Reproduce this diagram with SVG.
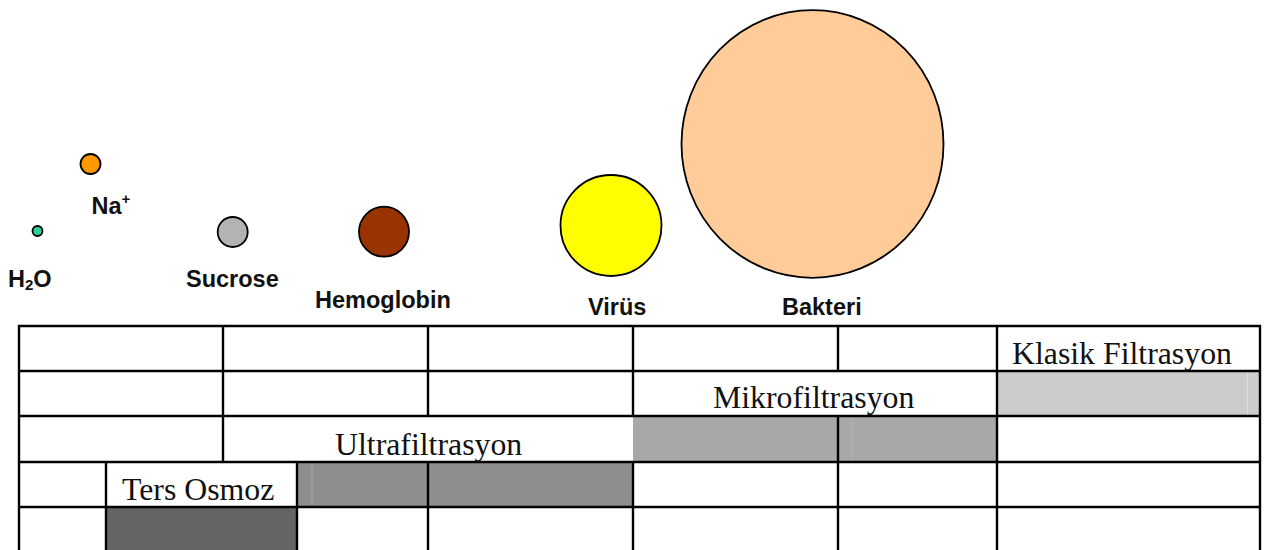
<svg xmlns="http://www.w3.org/2000/svg" width="1264" height="550" viewBox="0 0 1264 550">
  <style>
    .particle { stroke: #000; stroke-width: 1.8; }
    .label { font-family: "Liberation Sans", Arial, sans-serif; font-weight: bold; font-size: 23.5px; fill: #111; }
    .grid { stroke: #000; stroke-width: 2.4; fill: none; }
    .seam { stroke-width: 1.2; }
    .method { font-family: "Liberation Serif", "Times New Roman", serif; font-size: 31.8px; fill: #111; }
  </style>

  <rect width="1264" height="550" fill="#fff"/>

  <!-- Particles, smallest to largest -->
  <g id="h2o">
    <circle class="particle" cx="37.5" cy="231" r="5" fill="#2fcc9c"/>
    <text class="label" x="8" y="287">H<tspan font-size="15" dy="3">2</tspan><tspan dy="-3">O</tspan></text>
  </g>
  <g id="na">
    <circle class="particle" cx="90.5" cy="164" r="10" fill="#ff9900"/>
    <text class="label" x="91.5" y="214">Na<tspan font-size="15" dy="-10">+</tspan></text>
  </g>
  <g id="sucrose">
    <circle class="particle" cx="232.7" cy="232" r="15" fill="#b3b3b3"/>
    <text class="label" x="186" y="287">Sucrose</text>
  </g>
  <g id="hemoglobin">
    <circle class="particle" cx="384" cy="231.7" r="25" fill="#993300"/>
    <text class="label" x="315" y="308">Hemoglobin</text>
  </g>
  <g id="virus">
    <circle class="particle" cx="611" cy="225.5" r="50.5" fill="#ffff00"/>
    <text class="label" x="588" y="315">Virüs</text>
  </g>
  <g id="bakteri">
    <ellipse class="particle" cx="812.5" cy="144" rx="131" ry="133.8" fill="#ffcc99"/>
    <text class="label" x="782" y="315">Bakteri</text>
  </g>

  <!-- Shaded retention bands -->
  <g id="bands">
    <rect x="997" y="371" width="263" height="45" fill="#cccccc"/>
    <line x1="1247.5" y1="372" x2="1247.5" y2="415" stroke="#dedede" class="seam"/>
    <rect x="633" y="416" width="364" height="46" fill="#a8a8a8"/>
    <line x1="852" y1="417" x2="852" y2="461" stroke="#b2b2b2" class="seam"/>
    <rect x="297" y="462" width="336" height="45" fill="#8e8e8e"/>
    <line x1="312" y1="463" x2="312" y2="506" stroke="#a4a4a4" class="seam"/>
    <rect x="106" y="507" width="191" height="45" fill="#646464"/>
  </g>

  <!-- Table ruling -->
  <g id="table" class="grid">
    <line x1="18" y1="326" x2="1261" y2="326"/>
    <line x1="18" y1="371" x2="1261" y2="371"/>
    <line x1="18" y1="416" x2="1261" y2="416"/>
    <line x1="18" y1="462" x2="1261" y2="462"/>
    <line x1="18" y1="507" x2="1261" y2="507"/>
    <line x1="19" y1="325" x2="19" y2="552"/>
    <line x1="1260" y1="325" x2="1260" y2="552"/>
    <line x1="997" y1="326" x2="997" y2="552"/>
    <line x1="223" y1="326" x2="223" y2="462"/>
    <line x1="428" y1="326" x2="428" y2="416"/>
    <line x1="428" y1="462" x2="428" y2="552"/>
    <line x1="633" y1="326" x2="633" y2="416"/>
    <line x1="633" y1="462" x2="633" y2="552"/>
    <line x1="838" y1="326" x2="838" y2="371"/>
    <line x1="838" y1="416" x2="838" y2="552"/>
    <line x1="106" y1="462" x2="106" y2="552"/>
    <line x1="297" y1="462" x2="297" y2="552"/>
  </g>

  <!-- Separation method labels -->
  <g id="methods">
    <text id="klasik" class="method" x="1012" y="363.5">Klasik Filtrasyon</text>
    <text id="mikro" class="method" x="713" y="408">Mikrofiltrasyon</text>
    <text id="ultra" class="method" x="335" y="454.5">Ultrafiltrasyon</text>
    <text id="ters" class="method" x="122" y="500">Ters Osmoz</text>
  </g>
</svg>
